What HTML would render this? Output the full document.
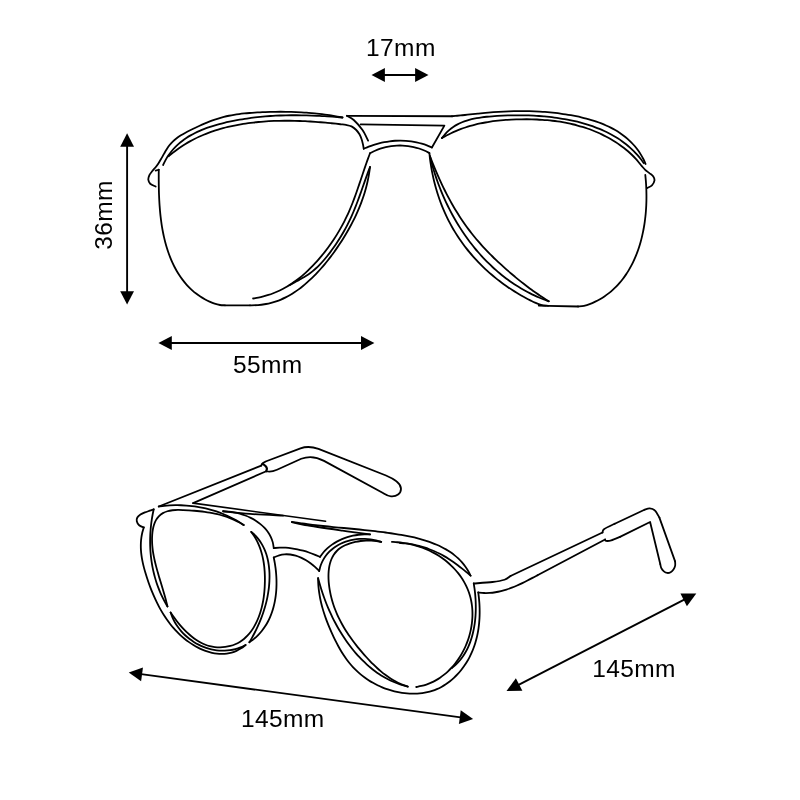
<!DOCTYPE html>
<html><head><meta charset="utf-8"><title>Glasses dimensions</title>
<style>html,body{margin:0;padding:0;background:#fff;}body{width:800px;height:800px;overflow:hidden;font-family:"Liberation Sans",sans-serif;}svg{display:block;will-change:transform;}</style>
</head><body>
<svg width="800" height="800" viewBox="0 0 800 800">
<g fill="none" stroke="#000" stroke-width="1.80" stroke-linecap="round" stroke-linejoin="round">
<path d="M155.60,186.50 C154.70,186.04 151.43,184.88 150.21,183.75 C149.00,182.62 148.47,181.11 148.31,179.71 C148.16,178.31 148.66,176.78 149.29,175.37 C149.93,173.96 151.09,172.62 152.14,171.26 C153.19,169.90 154.52,168.60 155.61,167.21 C156.70,165.82 157.73,164.37 158.70,162.90 C159.66,161.43 160.53,159.90 161.40,158.39 C162.28,156.89 163.09,155.35 163.95,153.85 C164.81,152.36 165.63,150.85 166.55,149.42 C167.46,147.99 168.38,146.58 169.41,145.26 C170.45,143.95 171.55,142.70 172.76,141.53 C173.96,140.36 175.28,139.28 176.64,138.25 C178.00,137.22 179.45,136.27 180.93,135.35 C182.40,134.42 183.95,133.56 185.49,132.72 C187.03,131.87 188.62,131.07 190.19,130.27 C191.76,129.48 193.33,128.70 194.91,127.94 C196.49,127.18 198.07,126.43 199.65,125.72 C201.24,125.00 202.83,124.30 204.42,123.62 C206.01,122.95 207.61,122.30 209.22,121.68 C210.83,121.06 212.44,120.46 214.06,119.90 C215.68,119.34 217.31,118.81 218.95,118.31 C220.59,117.81 222.24,117.35 223.90,116.92 C225.56,116.50 227.23,116.11 228.91,115.75 C230.59,115.40 232.29,115.09 233.99,114.81 C235.69,114.53 237.40,114.28 239.12,114.06 C240.84,113.83 242.56,113.64 244.29,113.46 C246.02,113.29 247.75,113.14 249.49,113.00 C251.22,112.86 252.96,112.74 254.69,112.63 C256.43,112.52 258.16,112.42 259.90,112.32 C261.63,112.23 263.37,112.15 265.10,112.08 C266.83,112.01 268.56,111.96 270.29,111.91 C272.03,111.86 273.76,111.82 275.49,111.80 C277.21,111.77 278.94,111.76 280.67,111.76 C282.40,111.76 284.13,111.77 285.85,111.79 C287.58,111.81 289.30,111.85 291.03,111.90 C292.75,111.94 294.48,112.00 296.20,112.08 C297.92,112.15 299.64,112.24 301.37,112.34 C303.09,112.44 304.81,112.55 306.53,112.68 C308.25,112.80 309.96,112.95 311.68,113.10 C313.40,113.26 315.12,113.42 316.83,113.61 C318.55,113.79 320.26,113.99 321.98,114.20 C323.69,114.42 325.40,114.64 327.12,114.89 C328.83,115.13 330.54,115.39 332.25,115.66 C333.96,115.94 335.67,116.23 337.38,116.53 C339.09,116.84 341.65,117.34 342.50,117.50"/>
<path d="M163.10,165.00 C163.51,164.19 164.67,161.68 165.54,160.12 C166.40,158.55 167.33,157.05 168.30,155.61 C169.28,154.17 170.30,152.78 171.38,151.46 C172.45,150.13 173.57,148.86 174.74,147.64 C175.90,146.42 177.11,145.26 178.36,144.15 C179.61,143.03 180.90,141.97 182.23,140.95 C183.55,139.93 184.92,138.97 186.31,138.04 C187.71,137.11 189.14,136.24 190.60,135.40 C192.06,134.56 193.55,133.76 195.06,133.00 C196.58,132.24 198.12,131.52 199.68,130.83 C201.24,130.14 202.83,129.50 204.43,128.88 C206.03,128.26 207.66,127.67 209.29,127.12 C210.93,126.56 212.58,126.03 214.25,125.53 C215.91,125.03 217.58,124.56 219.27,124.11 C220.95,123.65 222.64,123.23 224.33,122.82 C226.02,122.41 227.72,122.03 229.42,121.66 C231.12,121.29 232.82,120.94 234.52,120.61 C236.23,120.27 237.93,119.96 239.64,119.66 C241.34,119.36 243.05,119.08 244.76,118.82 C246.46,118.55 248.17,118.31 249.88,118.07 C251.59,117.84 253.30,117.63 255.02,117.42 C256.73,117.22 258.44,117.04 260.16,116.87 C261.87,116.70 263.59,116.54 265.30,116.40 C267.02,116.26 268.74,116.13 270.45,116.02 C272.17,115.90 273.89,115.80 275.61,115.71 C277.32,115.63 279.04,115.55 280.76,115.49 C282.48,115.43 284.20,115.38 285.92,115.34 C287.64,115.30 289.36,115.27 291.08,115.26 C292.80,115.24 294.52,115.24 296.24,115.24 C297.95,115.25 299.67,115.26 301.39,115.29 C303.11,115.32 304.83,115.35 306.55,115.40 C308.26,115.44 309.98,115.50 311.70,115.56 C313.41,115.62 315.13,115.70 316.85,115.78 C318.56,115.86 320.28,115.94 321.99,116.04 C323.70,116.13 325.42,116.24 327.13,116.35 C328.84,116.46 330.55,116.57 332.26,116.69 C333.97,116.82 335.68,116.95 337.38,117.08 C339.09,117.21 341.65,117.43 342.50,117.50"/>
<path d="M168.75,156.25 C169.42,155.69 171.41,153.96 172.77,152.86 C174.13,151.77 175.50,150.71 176.90,149.69 C178.29,148.67 179.71,147.68 181.14,146.72 C182.57,145.77 184.01,144.84 185.47,143.95 C186.94,143.06 188.41,142.21 189.91,141.38 C191.40,140.55 192.91,139.76 194.43,138.99 C195.95,138.22 197.48,137.49 199.03,136.78 C200.57,136.08 202.13,135.40 203.71,134.75 C205.28,134.10 206.86,133.48 208.45,132.88 C210.05,132.29 211.65,131.72 213.27,131.18 C214.88,130.63 216.51,130.12 218.14,129.62 C219.77,129.13 221.41,128.67 223.06,128.22 C224.71,127.78 226.37,127.36 228.03,126.96 C229.69,126.56 231.36,126.18 233.04,125.83 C234.72,125.48 236.40,125.14 238.08,124.83 C239.77,124.52 241.46,124.22 243.16,123.95 C244.85,123.68 246.55,123.43 248.25,123.19 C249.96,122.95 251.66,122.74 253.37,122.54 C255.08,122.34 256.79,122.16 258.51,122.00 C260.22,121.83 261.94,121.69 263.66,121.56 C265.38,121.43 267.10,121.32 268.83,121.22 C270.55,121.12 272.28,121.04 274.01,120.97 C275.73,120.90 277.46,120.85 279.19,120.81 C280.92,120.78 282.65,120.75 284.38,120.74 C286.11,120.73 287.84,120.74 289.57,120.75 C291.30,120.77 293.03,120.80 294.76,120.84 C296.49,120.88 298.22,120.93 299.95,120.99 C301.68,121.06 303.40,121.13 305.13,121.22 C306.85,121.30 308.58,121.40 310.30,121.51 C312.02,121.61 313.74,121.73 315.46,121.85 C317.17,121.97 318.89,122.11 320.60,122.25 C322.31,122.39 324.02,122.54 325.73,122.70 C327.43,122.86 329.14,123.02 330.83,123.19 C332.53,123.36 334.23,123.54 335.92,123.73 C337.61,123.91 339.29,124.10 340.97,124.30 C342.65,124.49 344.25,124.55 346.00,124.90 C347.75,125.25 349.79,125.55 351.50,126.40 C353.21,127.25 354.92,128.68 356.25,130.00 C357.58,131.32 358.59,132.72 359.50,134.30 C360.41,135.88 361.12,137.80 361.70,139.50 C362.28,141.20 362.66,142.96 363.00,144.50 C363.34,146.04 363.62,148.04 363.75,148.75"/>
<path d="M363.75,148.75 C364.58,148.40 367.03,147.29 368.71,146.64 C370.38,145.98 372.09,145.38 373.80,144.82 C375.52,144.27 377.26,143.77 379.01,143.32 C380.76,142.87 382.53,142.47 384.30,142.13 C386.08,141.79 387.87,141.51 389.66,141.28 C391.45,141.05 393.25,140.87 395.05,140.76 C396.86,140.65 398.66,140.59 400.47,140.59 C402.27,140.60 404.07,140.66 405.87,140.79 C407.66,140.91 409.46,141.10 411.24,141.35 C413.02,141.60 414.79,141.91 416.55,142.29 C418.31,142.67 420.05,143.11 421.78,143.62 C423.51,144.14 425.22,144.71 426.90,145.36 C428.59,146.00 431.07,147.14 431.90,147.50"/>
<path d="M360.60,124.40 L444.40,125.60 L431.90,147.50"/>
<path d="M370.00,153.30 C370.84,152.88 373.33,151.52 375.05,150.76 C376.76,150.00 378.52,149.32 380.30,148.72 C382.08,148.12 383.90,147.60 385.73,147.17 C387.55,146.74 389.41,146.39 391.26,146.12 C393.12,145.86 395.00,145.68 396.87,145.58 C398.75,145.49 400.63,145.48 402.51,145.55 C404.38,145.62 406.26,145.78 408.12,146.03 C409.97,146.27 411.83,146.60 413.66,147.02 C415.49,147.43 417.30,147.93 419.08,148.52 C420.86,149.11 422.63,149.79 424.35,150.55 C426.07,151.31 428.56,152.67 429.40,153.10"/>
<path d="M346.90,115.80 L452.00,116.25"/>
<path d="M452.00,116.25 C452.86,116.17 455.44,115.94 457.16,115.77 C458.88,115.61 460.60,115.43 462.32,115.26 C464.04,115.08 465.77,114.90 467.49,114.72 C469.21,114.54 470.94,114.36 472.66,114.18 C474.39,114.00 476.11,113.82 477.84,113.65 C479.56,113.47 481.28,113.30 483.01,113.13 C484.73,112.96 486.46,112.80 488.18,112.65 C489.90,112.50 491.62,112.35 493.35,112.21 C495.07,112.08 496.79,111.95 498.51,111.84 C500.23,111.73 501.95,111.62 503.66,111.53 C505.38,111.44 507.10,111.36 508.82,111.30 C510.53,111.23 512.25,111.18 513.97,111.14 C515.68,111.09 517.40,111.07 519.12,111.05 C520.83,111.04 522.55,111.03 524.27,111.05 C525.98,111.06 527.70,111.09 529.42,111.13 C531.13,111.17 532.85,111.22 534.57,111.30 C536.29,111.37 538.01,111.45 539.73,111.55 C541.45,111.66 543.17,111.77 544.90,111.91 C546.62,112.04 548.34,112.19 550.07,112.36 C551.79,112.52 553.52,112.70 555.25,112.90 C556.98,113.10 558.71,113.32 560.44,113.56 C562.17,113.79 563.91,114.04 565.64,114.32 C567.38,114.59 569.12,114.88 570.85,115.19 C572.59,115.50 574.33,115.83 576.06,116.18 C577.79,116.54 579.51,116.91 581.23,117.32 C582.95,117.72 584.66,118.14 586.36,118.60 C588.06,119.05 589.76,119.53 591.43,120.04 C593.11,120.55 594.78,121.08 596.42,121.65 C598.07,122.22 599.70,122.82 601.31,123.45 C602.92,124.08 604.52,124.75 606.08,125.45 C607.65,126.15 609.20,126.88 610.72,127.65 C612.24,128.43 613.74,129.23 615.20,130.08 C616.67,130.93 618.11,131.82 619.51,132.75 C620.92,133.68 622.29,134.65 623.63,135.66 C624.97,136.67 626.28,137.73 627.54,138.83 C628.81,139.93 630.04,141.08 631.23,142.27 C632.41,143.47 633.56,144.71 634.66,146.00 C635.77,147.29 636.83,148.63 637.84,150.03 C638.85,151.42 639.82,152.86 640.73,154.36 C641.65,155.86 642.51,157.41 643.33,159.01 C644.14,160.62 645.22,163.17 645.60,164.00"/>
<path d="M346.90,115.80 C348.04,116.50 351.15,117.63 353.75,120.00 C356.35,122.37 360.11,126.57 362.50,130.00 C364.89,133.43 367.17,138.83 368.10,140.60"/>
<path d="M370.00,153.30 C369.70,154.10 368.78,156.51 368.19,158.13 C367.60,159.74 367.02,161.37 366.44,162.99 C365.87,164.62 365.31,166.25 364.75,167.89 C364.19,169.52 363.64,171.16 363.09,172.80 C362.53,174.44 361.99,176.08 361.44,177.73 C360.89,179.37 360.34,181.01 359.79,182.65 C359.23,184.29 358.68,185.93 358.12,187.57 C357.56,189.21 356.99,190.85 356.41,192.48 C355.84,194.11 355.25,195.74 354.65,197.36 C354.06,198.98 353.45,200.60 352.83,202.21 C352.20,203.82 351.57,205.42 350.91,207.01 C350.25,208.61 349.58,210.20 348.89,211.77 C348.19,213.35 347.48,214.91 346.74,216.47 C346.01,218.03 345.25,219.57 344.47,221.10 C343.69,222.64 342.88,224.16 342.06,225.67 C341.24,227.18 340.39,228.68 339.53,230.17 C338.66,231.66 337.77,233.13 336.87,234.60 C335.96,236.06 335.03,237.51 334.08,238.95 C333.14,240.39 332.17,241.82 331.18,243.24 C330.19,244.65 329.19,246.05 328.16,247.44 C327.13,248.83 326.09,250.21 325.02,251.57 C323.96,252.94 322.87,254.29 321.77,255.62 C320.67,256.96 319.55,258.29 318.41,259.59 C317.27,260.90 316.11,262.20 314.94,263.47 C313.76,264.74 312.56,266.00 311.35,267.23 C310.13,268.47 308.89,269.68 307.64,270.87 C306.38,272.06 305.10,273.22 303.80,274.36 C302.50,275.50 301.18,276.61 299.84,277.69 C298.50,278.76 297.13,279.81 295.75,280.83 C294.36,281.84 292.95,282.83 291.52,283.77 C290.09,284.72 288.63,285.63 287.16,286.50 C285.68,287.37 284.18,288.20 282.65,288.99 C281.13,289.78 279.59,290.54 278.02,291.25 C276.46,291.95 274.87,292.62 273.26,293.25 C271.66,293.87 270.03,294.45 268.39,294.98 C266.74,295.51 265.08,296.00 263.40,296.44 C261.72,296.88 260.02,297.28 258.30,297.62 C256.58,297.96 253.97,298.35 253.10,298.50"/>
<path d="M370.00,167.00 C369.69,167.82 368.74,170.29 368.13,171.94 C367.52,173.58 366.92,175.23 366.33,176.88 C365.73,178.53 365.15,180.18 364.57,181.83 C363.99,183.48 363.42,185.13 362.84,186.77 C362.26,188.42 361.69,190.07 361.11,191.71 C360.52,193.35 359.94,195.00 359.35,196.63 C358.75,198.27 358.15,199.91 357.54,201.54 C356.92,203.17 356.30,204.79 355.66,206.41 C355.02,208.03 354.36,209.65 353.68,211.26 C353.01,212.87 352.31,214.48 351.59,216.07 C350.87,217.67 350.13,219.26 349.36,220.84 C348.59,222.42 347.81,224.00 347.00,225.56 C346.19,227.12 345.36,228.68 344.50,230.22 C343.65,231.76 342.77,233.29 341.88,234.81 C340.98,236.33 340.07,237.83 339.13,239.33 C338.19,240.82 337.23,242.30 336.25,243.76 C335.27,245.22 334.27,246.67 333.25,248.10 C332.23,249.53 331.19,250.95 330.13,252.34 C329.08,253.74 328.00,255.12 326.90,256.47 C325.80,257.83 324.68,259.17 323.54,260.48 C322.39,261.79 321.22,263.08 320.02,264.33 C318.82,265.58 317.60,266.80 316.33,267.98 C315.07,269.15 313.77,270.30 312.43,271.39 C311.09,272.48 309.71,273.53 308.28,274.52 C306.86,275.51 305.38,276.43 303.87,277.33 C302.36,278.22 300.79,279.03 299.23,279.87 C297.68,280.71 296.09,281.50 294.55,282.36 C293.01,283.21 290.76,284.56 290.00,285.00"/>
<path d="M370.00,167.00 C369.88,167.87 369.56,170.49 369.30,172.22 C369.04,173.94 368.74,175.66 368.42,177.36 C368.09,179.07 367.74,180.76 367.35,182.45 C366.97,184.13 366.56,185.80 366.12,187.46 C365.68,189.12 365.21,190.78 364.71,192.42 C364.22,194.06 363.70,195.69 363.15,197.31 C362.60,198.93 362.03,200.54 361.43,202.14 C360.83,203.74 360.21,205.34 359.57,206.92 C358.92,208.50 358.25,210.08 357.56,211.64 C356.87,213.20 356.16,214.76 355.42,216.31 C354.69,217.85 353.93,219.39 353.15,220.92 C352.38,222.45 351.58,223.97 350.76,225.49 C349.95,227.00 349.11,228.51 348.26,230.00 C347.41,231.50 346.53,232.99 345.64,234.48 C344.76,235.96 343.85,237.43 342.93,238.90 C342.01,240.37 341.07,241.83 340.12,243.28 C339.16,244.74 338.19,246.18 337.21,247.62 C336.22,249.06 335.22,250.48 334.21,251.90 C333.19,253.32 332.16,254.72 331.11,256.11 C330.06,257.50 328.99,258.88 327.91,260.25 C326.83,261.61 325.73,262.97 324.62,264.30 C323.50,265.63 322.37,266.95 321.22,268.25 C320.07,269.56 318.91,270.84 317.72,272.10 C316.54,273.37 315.34,274.62 314.12,275.84 C312.90,277.06 311.67,278.27 310.41,279.45 C309.16,280.63 307.89,281.79 306.60,282.92 C305.31,284.06 304.00,285.17 302.67,286.24 C301.34,287.31 299.99,288.36 298.61,289.37 C297.24,290.38 295.85,291.36 294.43,292.30 C293.01,293.23 291.57,294.13 290.10,294.99 C288.63,295.84 287.14,296.65 285.62,297.41 C284.10,298.17 282.55,298.89 280.98,299.55 C279.40,300.22 277.80,300.83 276.17,301.38 C274.54,301.94 272.87,302.44 271.18,302.87 C269.48,303.31 268.20,303.63 266.00,304.00 C263.80,304.37 260.67,304.88 258.00,305.10 C255.33,305.32 251.33,305.27 250.00,305.30"/>
<path d="M250.00,305.30 L225.00,305.30"/>
<path d="M225.00,305.30 C224.17,305.25 221.73,305.27 220.00,305.00 C218.27,304.73 216.34,304.26 214.60,303.70 C212.86,303.14 211.18,302.37 209.54,301.62 C207.91,300.88 206.32,300.08 204.78,299.23 C203.25,298.38 201.76,297.48 200.32,296.54 C198.88,295.59 197.49,294.60 196.14,293.56 C194.80,292.52 193.50,291.44 192.24,290.32 C190.99,289.19 189.78,288.03 188.61,286.82 C187.44,285.62 186.32,284.38 185.24,283.10 C184.15,281.82 183.11,280.51 182.11,279.16 C181.11,277.82 180.16,276.44 179.24,275.03 C178.32,273.62 177.44,272.18 176.59,270.71 C175.75,269.25 174.94,267.75 174.17,266.24 C173.41,264.72 172.67,263.18 171.98,261.62 C171.28,260.05 170.62,258.47 169.99,256.86 C169.36,255.26 168.76,253.64 168.20,252.00 C167.63,250.37 167.10,248.71 166.60,247.05 C166.10,245.38 165.63,243.70 165.19,242.02 C164.75,240.33 164.34,238.63 163.95,236.92 C163.57,235.22 163.21,233.50 162.88,231.78 C162.55,230.06 162.24,228.33 161.96,226.60 C161.68,224.87 161.42,223.13 161.19,221.39 C160.95,219.65 160.74,217.91 160.54,216.16 C160.34,214.41 160.17,212.67 160.01,210.92 C159.86,209.17 159.72,207.42 159.60,205.68 C159.47,203.93 159.37,202.18 159.28,200.44 C159.18,198.70 159.11,196.96 159.04,195.22 C158.97,193.49 158.92,191.76 158.88,190.04 C158.84,188.31 158.81,186.59 158.78,184.88 C158.76,183.17 158.74,181.47 158.73,179.78 C158.73,178.09 158.73,176.40 158.73,174.73 C158.73,173.06 158.75,170.58 158.75,169.75"/>
<path d="M158.75,169.75 L155.60,170.60"/>
<path d="M441.90,138.10 C442.48,137.38 444.17,135.12 445.39,133.78 C446.60,132.44 447.87,131.22 449.17,130.09 C450.48,128.95 451.84,127.92 453.24,126.97 C454.63,126.01 456.07,125.16 457.54,124.37 C459.02,123.58 460.53,122.88 462.07,122.24 C463.61,121.59 465.18,121.03 466.78,120.52 C468.37,120.01 470.00,119.56 471.64,119.16 C473.29,118.76 474.96,118.42 476.64,118.11 C478.32,117.81 480.03,117.55 481.74,117.32 C483.45,117.09 485.17,116.90 486.90,116.73 C488.63,116.56 490.37,116.42 492.11,116.29 C493.85,116.15 495.59,116.04 497.33,115.94 C499.07,115.84 500.81,115.74 502.55,115.66 C504.29,115.58 506.03,115.52 507.77,115.46 C509.50,115.41 511.24,115.37 512.98,115.34 C514.71,115.31 516.45,115.29 518.18,115.29 C519.91,115.29 521.65,115.31 523.38,115.34 C525.11,115.36 526.84,115.41 528.57,115.47 C530.30,115.52 532.03,115.60 533.76,115.69 C535.48,115.78 537.21,115.88 538.93,116.00 C540.66,116.13 542.38,116.27 544.10,116.42 C545.82,116.58 547.54,116.75 549.26,116.94 C550.97,117.13 552.69,117.34 554.40,117.57 C556.12,117.80 557.83,118.05 559.54,118.31 C561.25,118.58 562.96,118.86 564.66,119.16 C566.37,119.47 568.07,119.79 569.77,120.14 C571.47,120.48 573.17,120.85 574.86,121.24 C576.55,121.63 578.23,122.04 579.91,122.47 C581.59,122.91 583.26,123.37 584.92,123.85 C586.58,124.34 588.23,124.85 589.87,125.39 C591.50,125.93 593.13,126.49 594.75,127.08 C596.36,127.68 597.96,128.30 599.55,128.95 C601.13,129.60 602.71,130.29 604.26,131.00 C605.81,131.71 607.35,132.46 608.87,133.23 C610.38,134.01 611.88,134.82 613.36,135.67 C614.84,136.51 616.30,137.39 617.73,138.31 C619.17,139.22 620.58,140.17 621.97,141.16 C623.36,142.15 624.72,143.18 626.06,144.24 C627.39,145.31 628.71,146.41 629.99,147.55 C631.27,148.70 632.52,149.88 633.75,151.10 C634.97,152.33 636.17,153.60 637.33,154.91 C638.49,156.22 639.62,157.57 640.72,158.97 C641.81,160.37 643.37,162.58 643.90,163.30"/>
<path d="M441.90,138.10 C442.65,137.67 444.90,136.35 446.43,135.54 C447.95,134.72 449.49,133.95 451.05,133.20 C452.60,132.46 454.17,131.76 455.74,131.09 C457.32,130.42 458.92,129.79 460.52,129.19 C462.12,128.59 463.74,128.02 465.36,127.48 C466.99,126.95 468.62,126.45 470.27,125.97 C471.92,125.50 473.57,125.06 475.23,124.64 C476.90,124.23 478.57,123.85 480.25,123.49 C481.93,123.13 483.62,122.80 485.31,122.49 C487.00,122.19 488.70,121.91 490.41,121.65 C492.11,121.40 493.82,121.17 495.53,120.96 C497.25,120.75 498.97,120.56 500.69,120.39 C502.41,120.23 504.14,120.08 505.86,119.96 C507.59,119.83 509.32,119.72 511.05,119.63 C512.78,119.55 514.51,119.48 516.24,119.42 C517.98,119.36 519.71,119.32 521.44,119.30 C523.17,119.28 524.90,119.27 526.63,119.27 C528.36,119.28 530.08,119.30 531.81,119.35 C533.54,119.39 535.26,119.45 536.98,119.52 C538.70,119.60 540.42,119.70 542.14,119.81 C543.85,119.93 545.56,120.06 547.27,120.22 C548.98,120.37 550.69,120.55 552.39,120.75 C554.09,120.95 555.79,121.17 557.48,121.41 C559.18,121.65 560.87,121.92 562.55,122.21 C564.23,122.50 565.91,122.81 567.59,123.16 C569.26,123.50 570.93,123.86 572.59,124.25 C574.25,124.64 575.90,125.06 577.55,125.51 C579.20,125.95 580.84,126.42 582.48,126.92 C584.11,127.42 585.74,127.95 587.36,128.51 C588.98,129.07 590.59,129.66 592.20,130.28 C593.80,130.90 595.39,131.55 596.98,132.23 C598.57,132.92 600.15,133.63 601.72,134.38 C603.28,135.12 604.84,135.90 606.39,136.72 C607.93,137.53 609.47,138.37 610.98,139.25 C612.49,140.13 613.99,141.03 615.46,141.97 C616.93,142.91 618.38,143.89 619.81,144.89 C621.23,145.89 622.63,146.93 624.00,147.99 C625.36,149.06 626.70,150.15 628.00,151.28 C629.30,152.40 630.57,153.56 631.80,154.75 C633.02,155.93 634.21,157.15 635.36,158.39 C636.50,159.64 637.58,160.93 638.66,162.22 C639.74,163.51 640.73,164.85 641.82,166.12 C642.91,167.40 643.94,168.69 645.20,169.85 C646.46,171.02 648.04,172.04 649.39,173.13 C650.74,174.22 652.45,175.15 653.29,176.40 C654.13,177.64 654.66,179.11 654.44,180.59 C654.21,182.08 653.13,184.06 651.94,185.29 C650.75,186.53 648.07,187.55 647.30,188.00"/>
<path d="M429.40,153.10 C429.49,153.96 429.75,156.56 429.95,158.28 C430.16,160.00 430.39,161.72 430.64,163.44 C430.90,165.16 431.17,166.87 431.47,168.58 C431.77,170.29 432.09,171.99 432.43,173.69 C432.77,175.39 433.14,177.08 433.53,178.77 C433.91,180.46 434.33,182.14 434.76,183.82 C435.19,185.49 435.65,187.16 436.13,188.82 C436.61,190.48 437.11,192.14 437.63,193.78 C438.16,195.43 438.71,197.07 439.28,198.70 C439.85,200.33 440.44,201.95 441.06,203.56 C441.67,205.17 442.31,206.77 442.97,208.37 C443.63,209.96 444.32,211.54 445.03,213.11 C445.73,214.68 446.46,216.24 447.22,217.79 C447.97,219.34 448.74,220.87 449.54,222.40 C450.34,223.92 451.16,225.44 452.01,226.94 C452.85,228.43 453.72,229.92 454.61,231.39 C455.50,232.87 456.42,234.33 457.35,235.77 C458.29,237.22 459.25,238.65 460.23,240.06 C461.21,241.48 462.21,242.88 463.23,244.27 C464.25,245.66 465.30,247.03 466.36,248.39 C467.42,249.75 468.51,251.09 469.61,252.42 C470.71,253.74 471.84,255.05 472.98,256.35 C474.12,257.65 475.28,258.92 476.46,260.19 C477.64,261.45 478.84,262.70 480.06,263.93 C481.27,265.16 482.51,266.37 483.76,267.57 C485.01,268.76 486.28,269.94 487.56,271.11 C488.84,272.27 490.14,273.41 491.46,274.54 C492.78,275.66 494.11,276.77 495.45,277.86 C496.80,278.95 498.16,280.03 499.54,281.08 C500.92,282.13 502.31,283.17 503.71,284.18 C505.12,285.20 506.53,286.20 507.96,287.18 C509.40,288.15 510.84,289.11 512.30,290.05 C513.75,290.99 515.22,291.91 516.70,292.81 C518.19,293.70 519.68,294.58 521.18,295.44 C522.69,296.30 524.20,297.14 525.73,297.95 C527.25,298.77 528.79,299.57 530.33,300.34 C531.88,301.11 533.22,301.86 535.00,302.60 C536.78,303.34 538.83,304.25 541.00,304.80 C543.17,305.35 546.83,305.72 548.00,305.90"/>
<path d="M548.00,305.90 L578.00,306.50"/>
<path d="M578.00,306.50 C579.00,306.38 581.95,306.23 584.00,305.80 C586.05,305.37 588.42,304.59 590.30,303.90 C592.18,303.21 593.65,302.46 595.26,301.67 C596.87,300.88 598.44,300.04 599.96,299.16 C601.48,298.28 602.95,297.35 604.39,296.38 C605.82,295.41 607.21,294.40 608.56,293.35 C609.91,292.30 611.22,291.21 612.48,290.08 C613.75,288.95 614.97,287.78 616.16,286.58 C617.34,285.38 618.48,284.14 619.59,282.87 C620.69,281.60 621.76,280.30 622.79,278.97 C623.81,277.63 624.80,276.27 625.75,274.87 C626.71,273.48 627.62,272.06 628.50,270.61 C629.37,269.16 630.22,267.69 631.02,266.19 C631.83,264.69 632.60,263.17 633.33,261.62 C634.07,260.08 634.77,258.51 635.43,256.92 C636.10,255.34 636.73,253.73 637.33,252.11 C637.93,250.49 638.50,248.84 639.04,247.19 C639.57,245.53 640.08,243.86 640.55,242.18 C641.02,240.50 641.46,238.80 641.87,237.09 C642.29,235.39 642.67,233.67 643.02,231.94 C643.37,230.22 643.70,228.48 643.99,226.74 C644.29,225.01 644.55,223.26 644.79,221.51 C645.03,219.76 645.24,218.01 645.43,216.25 C645.62,214.50 645.78,212.74 645.91,210.98 C646.04,209.23 646.15,207.47 646.24,205.72 C646.32,203.97 646.38,202.22 646.42,200.48 C646.45,198.73 646.46,196.99 646.45,195.26 C646.44,193.53 646.41,191.81 646.36,190.10 C646.30,188.38 646.22,186.68 646.13,184.99 C646.03,183.30 645.91,181.62 645.77,179.95 C645.64,178.29 645.38,175.83 645.30,175.00"/>
<path d="M538.75,305.60 L546.25,305.80"/>
<path d="M430.00,156.25 C430.20,157.07 430.80,159.53 431.22,161.17 C431.65,162.81 432.09,164.44 432.55,166.08 C433.02,167.71 433.50,169.35 433.99,170.97 C434.49,172.60 435.01,174.23 435.55,175.85 C436.08,177.48 436.63,179.09 437.21,180.71 C437.78,182.32 438.37,183.93 438.97,185.54 C439.58,187.14 440.21,188.74 440.85,190.34 C441.49,191.93 442.15,193.52 442.83,195.10 C443.51,196.68 444.21,198.26 444.92,199.83 C445.63,201.40 446.36,202.96 447.11,204.51 C447.86,206.07 448.63,207.61 449.41,209.15 C450.20,210.68 451.00,212.21 451.82,213.73 C452.63,215.25 453.47,216.76 454.32,218.26 C455.17,219.76 456.04,221.25 456.93,222.73 C457.82,224.21 458.72,225.68 459.64,227.14 C460.56,228.59 461.50,230.04 462.46,231.48 C463.41,232.91 464.38,234.33 465.37,235.74 C466.36,237.15 467.36,238.55 468.39,239.93 C469.41,241.31 470.45,242.68 471.50,244.04 C472.55,245.39 473.63,246.74 474.71,248.06 C475.80,249.39 476.91,250.70 478.03,252.00 C479.15,253.29 480.28,254.58 481.43,255.84 C482.59,257.10 483.76,258.35 484.94,259.58 C486.13,260.82 487.33,262.03 488.54,263.23 C489.76,264.43 490.99,265.61 492.24,266.77 C493.49,267.93 494.76,269.07 496.04,270.19 C497.32,271.32 498.61,272.42 499.93,273.51 C501.24,274.59 502.57,275.66 503.91,276.70 C505.25,277.75 506.61,278.77 507.98,279.78 C509.36,280.78 510.75,281.76 512.15,282.73 C513.56,283.69 514.98,284.63 516.41,285.54 C517.85,286.46 519.30,287.35 520.76,288.22 C522.23,289.09 523.71,289.94 525.20,290.77 C526.70,291.59 528.21,292.39 529.74,293.17 C531.26,293.94 532.80,294.69 534.36,295.42 C535.91,296.14 537.48,296.85 539.07,297.52 C540.65,298.19 542.25,298.84 543.86,299.47 C545.48,300.09 547.94,300.95 548.75,301.25"/>
<path d="M430.00,156.25 C430.31,157.05 431.23,159.47 431.86,161.08 C432.49,162.68 433.13,164.29 433.78,165.88 C434.43,167.48 435.09,169.08 435.76,170.67 C436.43,172.26 437.11,173.85 437.80,175.43 C438.49,177.01 439.20,178.58 439.91,180.15 C440.63,181.72 441.35,183.29 442.09,184.85 C442.83,186.40 443.58,187.96 444.35,189.50 C445.11,191.05 445.89,192.58 446.68,194.12 C447.47,195.65 448.27,197.17 449.09,198.68 C449.90,200.20 450.73,201.71 451.58,203.21 C452.42,204.70 453.28,206.19 454.15,207.67 C455.02,209.15 455.91,210.63 456.81,212.09 C457.72,213.55 458.63,215.00 459.57,216.44 C460.50,217.88 461.45,219.31 462.41,220.73 C463.38,222.15 464.36,223.56 465.35,224.96 C466.35,226.36 467.36,227.74 468.39,229.12 C469.42,230.49 470.47,231.85 471.54,233.20 C472.60,234.55 473.68,235.89 474.77,237.21 C475.87,238.54 476.98,239.85 478.10,241.15 C479.23,242.45 480.37,243.75 481.52,245.03 C482.67,246.31 483.84,247.57 485.02,248.83 C486.20,250.09 487.39,251.34 488.60,252.57 C489.80,253.81 491.02,255.03 492.25,256.25 C493.47,257.47 494.71,258.67 495.96,259.87 C497.21,261.06 498.47,262.25 499.74,263.42 C501.00,264.60 502.28,265.76 503.57,266.92 C504.85,268.08 506.15,269.22 507.45,270.36 C508.75,271.50 510.06,272.63 511.38,273.75 C512.70,274.87 514.02,275.98 515.35,277.08 C516.68,278.18 518.02,279.28 519.36,280.36 C520.70,281.44 522.05,282.52 523.41,283.58 C524.77,284.64 526.13,285.69 527.51,286.73 C528.88,287.76 530.26,288.79 531.65,289.80 C533.04,290.81 534.44,291.81 535.84,292.80 C537.25,293.78 538.67,294.76 540.09,295.71 C541.51,296.67 542.95,297.61 544.39,298.53 C545.83,299.45 548.02,300.80 548.75,301.25"/>
<path d="M158.75,506.50 L261.25,465.60"/>
<path d="M261.25,465.6 C261.6,464.2 263.5,462.4 266.25,461.25 L300.5,448.4 Q308.5,445.4 318.5,448.9 L386,475.5 C395,479.3 401,484 401,488.7 C401,493.6 396.5,496.9 391,496.4 C388,496.2 385.5,494.5 383,493 L324,460.9 Q312.5,454.6 301.25,458.75 L277,469.8 C273,471.6 269.5,472.2 266.25,471.25 L193.1,503.1"/>
<path d="M262.50,463.75 C263.00,464.12 264.77,465.21 265.50,466.00 C266.23,466.79 266.77,467.62 266.90,468.50 C267.02,469.38 266.36,470.79 266.25,471.25" stroke-width="2.20"/>
<path d="M193.10,503.10 L325.60,521.25" stroke-width="1.60"/>
<path d="M223.10,511.25 C227.58,511.69 240.02,513.16 250.00,513.90 C259.98,514.64 277.50,515.40 283.00,515.70"/>
<path d="M223.10,511.25 C224.01,511.30 226.71,511.35 228.55,511.53 C230.39,511.71 232.28,511.98 234.15,512.33 C236.02,512.69 237.91,513.14 239.78,513.67 C241.64,514.20 243.51,514.81 245.33,515.52 C247.15,516.22 248.96,517.01 250.70,517.88 C252.44,518.75 254.14,519.70 255.77,520.74 C257.39,521.78 258.96,522.90 260.43,524.10 C261.89,525.30 263.29,526.59 264.57,527.95 C265.85,529.31 267.04,530.76 268.08,532.28 C269.13,533.81 270.08,535.41 270.86,537.09 C271.64,538.77 272.30,540.53 272.79,542.36 C273.27,544.20 273.59,547.14 273.75,548.10"/>
<path d="M273.75,548.10 C274.74,548.02 277.72,547.70 279.70,547.64 C281.68,547.57 283.67,547.61 285.64,547.72 C287.62,547.83 289.60,548.03 291.56,548.29 C293.53,548.56 295.49,548.91 297.43,549.32 C299.38,549.73 301.31,550.21 303.23,550.74 C305.15,551.27 307.06,551.87 308.94,552.51 C310.83,553.15 312.70,553.85 314.54,554.58 C316.38,555.31 319.09,556.51 320.00,556.90"/>
<path d="M320.00,556.90 C320.59,556.13 322.27,553.73 323.53,552.28 C324.79,550.82 326.14,549.46 327.56,548.19 C328.97,546.92 330.47,545.74 332.01,544.64 C333.56,543.55 335.18,542.54 336.84,541.62 C338.50,540.70 340.22,539.87 341.97,539.13 C343.72,538.38 345.52,537.73 347.34,537.15 C349.16,536.58 351.02,536.10 352.89,535.70 C354.76,535.30 356.66,534.99 358.56,534.76 C360.46,534.53 362.38,534.39 364.29,534.33 C366.19,534.27 369.05,534.39 370.00,534.40"/>
<path d="M291.90,521.90 C292.76,522.04 295.36,522.46 297.09,522.72 C298.81,522.98 300.54,523.23 302.27,523.47 C304.00,523.72 305.73,523.95 307.46,524.17 C309.19,524.40 310.92,524.61 312.65,524.82 C314.38,525.03 316.10,525.23 317.83,525.42 C319.56,525.61 321.29,525.80 323.02,525.99 C324.76,526.17 326.49,526.35 328.22,526.52 C329.95,526.70 331.68,526.87 333.41,527.04 C335.14,527.20 336.88,527.37 338.61,527.53 C340.34,527.70 342.07,527.86 343.81,528.02 C345.54,528.19 347.28,528.35 349.01,528.51 C350.75,528.68 352.48,528.84 354.22,529.01 C355.95,529.18 357.69,529.35 359.43,529.52 C361.16,529.69 362.90,529.87 364.64,530.05 C366.38,530.23 368.12,530.41 369.86,530.60 C371.60,530.80 373.34,530.99 375.08,531.19 C376.82,531.40 378.57,531.61 380.31,531.83 C382.05,532.05 383.80,532.27 385.54,532.51 C387.29,532.75 389.03,532.99 390.78,533.25 C392.53,533.50 394.28,533.77 396.03,534.05 C397.77,534.33 399.53,534.62 401.27,534.92 C403.02,535.23 404.76,535.55 406.50,535.89 C408.24,536.23 409.98,536.59 411.71,536.97 C413.44,537.35 415.16,537.75 416.87,538.18 C418.58,538.61 420.28,539.06 421.97,539.55 C423.65,540.03 425.33,540.54 426.99,541.09 C428.65,541.63 430.29,542.21 431.92,542.82 C433.54,543.43 435.15,544.08 436.73,544.76 C438.32,545.45 439.88,546.17 441.42,546.94 C442.95,547.71 444.46,548.52 445.94,549.38 C447.41,550.24 448.86,551.14 450.27,552.10 C451.67,553.06 453.05,554.06 454.37,555.12 C455.70,556.18 456.99,557.30 458.23,558.47 C459.47,559.65 460.67,560.88 461.81,562.17 C462.96,563.47 464.05,564.82 465.09,566.24 C466.12,567.67 467.11,569.15 468.03,570.71 C468.94,572.27 470.17,574.79 470.60,575.60"/>
<path d="M291.90,522.20 C294.08,522.67 296.57,523.60 305.00,525.00 C313.43,526.40 331.67,529.03 342.50,530.60 C353.33,532.17 365.42,533.77 370.00,534.40"/>
<path d="M158.75,506.50 C159.66,506.39 162.40,506.01 164.24,505.83 C166.07,505.64 167.91,505.50 169.76,505.39 C171.61,505.29 173.46,505.23 175.31,505.21 C177.17,505.18 179.02,505.20 180.88,505.26 C182.73,505.32 184.59,505.42 186.44,505.56 C188.30,505.70 190.15,505.88 191.99,506.10 C193.84,506.32 195.68,506.58 197.52,506.88 C199.35,507.18 201.18,507.53 203.00,507.91 C204.82,508.29 206.63,508.72 208.43,509.19 C210.22,509.65 212.01,510.16 213.78,510.70 C215.56,511.25 217.32,511.84 219.06,512.47 C220.80,513.10 222.53,513.77 224.24,514.48 C225.95,515.19 227.65,515.95 229.32,516.74 C230.99,517.53 232.64,518.37 234.27,519.25 C235.90,520.12 237.50,521.04 239.08,522.00 C240.66,522.96 242.97,524.50 243.75,525.00"/>
<path d="M243.75,525.00 C242.95,524.54 240.56,523.11 238.96,522.25 C237.37,521.40 235.77,520.62 234.17,519.89 C232.58,519.16 230.98,518.49 229.37,517.87 C227.77,517.25 226.16,516.69 224.55,516.17 C222.93,515.65 221.31,515.18 219.68,514.75 C218.05,514.31 216.41,513.93 214.76,513.58 C213.11,513.22 211.44,512.91 209.77,512.63 C208.09,512.34 206.40,512.09 204.70,511.86 C202.99,511.63 201.27,511.43 199.53,511.25 C197.79,511.07 196.04,510.91 194.26,510.76 C192.48,510.61 190.68,510.48 188.86,510.36 C187.05,510.24 185.19,510.11 183.35,510.04 C181.51,509.97 179.63,509.89 177.82,509.93 C176.00,509.97 174.18,510.04 172.45,510.26 C170.71,510.48 169.01,510.78 167.41,511.26 C165.81,511.74 164.27,512.34 162.87,513.14 C161.48,513.93 160.16,514.90 159.03,516.02 C157.91,517.14 156.94,518.46 156.11,519.87 C155.29,521.29 154.64,522.87 154.09,524.50 C153.54,526.13 153.15,527.89 152.83,529.65 C152.51,531.41 152.32,533.25 152.19,535.05 C152.06,536.86 152.03,538.68 152.05,540.47 C152.07,542.26 152.16,544.04 152.30,545.80 C152.44,547.56 152.65,549.30 152.89,551.04 C153.14,552.77 153.44,554.49 153.76,556.20 C154.09,557.91 154.47,559.61 154.86,561.30 C155.25,563.00 155.68,564.68 156.12,566.36 C156.56,568.04 157.02,569.71 157.49,571.38 C157.96,573.05 158.45,574.71 158.94,576.38 C159.43,578.04 159.93,579.70 160.42,581.36 C160.92,583.02 161.43,584.68 161.93,586.35 C162.42,588.01 162.92,589.67 163.41,591.34 C163.90,593.01 164.39,594.68 164.86,596.36 C165.33,598.03 165.79,599.71 166.23,601.41 C166.67,603.10 167.29,605.65 167.50,606.50"/>
<path d="M153.70,509.30 C153.52,510.17 152.97,512.76 152.64,514.50 C152.32,516.24 152.03,517.98 151.77,519.73 C151.51,521.48 151.27,523.23 151.07,524.99 C150.87,526.75 150.71,528.51 150.57,530.27 C150.43,532.03 150.33,533.80 150.25,535.56 C150.18,537.33 150.14,539.09 150.13,540.86 C150.12,542.62 150.14,544.38 150.20,546.15 C150.26,547.91 150.35,549.67 150.47,551.42 C150.60,553.18 150.76,554.93 150.95,556.68 C151.14,558.43 151.37,560.18 151.63,561.91 C151.89,563.65 152.19,565.39 152.52,567.11 C152.85,568.84 153.21,570.56 153.62,572.27 C154.02,573.98 154.46,575.68 154.93,577.37 C155.41,579.06 155.92,580.74 156.46,582.42 C157.01,584.09 157.59,585.75 158.22,587.39 C158.84,589.04 159.50,590.68 160.19,592.30 C160.89,593.92 161.62,595.53 162.40,597.13 C163.17,598.72 163.98,600.30 164.83,601.86 C165.68,603.42 167.06,605.73 167.50,606.50"/>
<path d="M153.70,509.30 C153.05,509.53 151.25,510.19 149.79,510.71 C148.34,511.22 146.54,511.75 144.98,512.39 C143.42,513.03 141.71,513.72 140.44,514.57 C139.16,515.42 137.93,516.35 137.33,517.48 C136.72,518.60 136.49,520.01 136.79,521.30 C137.10,522.59 137.98,524.22 139.15,525.24 C140.32,526.25 143.02,527.04 143.80,527.40"/>
<path d="M143.80,527.40 C143.55,528.26 142.73,530.85 142.32,532.57 C141.92,534.28 141.61,535.99 141.37,537.70 C141.13,539.40 140.98,541.10 140.89,542.79 C140.80,544.49 140.79,546.17 140.84,547.86 C140.89,549.54 141.01,551.22 141.18,552.89 C141.35,554.57 141.58,556.24 141.85,557.90 C142.12,559.57 142.45,561.23 142.81,562.89 C143.17,564.55 143.58,566.21 144.02,567.86 C144.45,569.51 144.93,571.16 145.42,572.81 C145.91,574.46 146.43,576.11 146.97,577.76 C147.50,579.40 148.06,581.04 148.63,582.68 C149.21,584.32 149.80,585.95 150.42,587.58 C151.04,589.20 151.67,590.83 152.34,592.43 C153.00,594.04 153.68,595.64 154.39,597.23 C155.10,598.82 155.84,600.39 156.60,601.95 C157.36,603.51 158.14,605.06 158.96,606.59 C159.77,608.12 160.61,609.63 161.48,611.12 C162.35,612.61 163.25,614.09 164.18,615.54 C165.11,616.98 166.07,618.41 167.06,619.82 C168.06,621.22 169.08,622.60 170.13,623.95 C171.19,625.30 172.28,626.63 173.40,627.92 C174.53,629.21 175.69,630.48 176.88,631.71 C178.08,632.94 179.31,634.15 180.58,635.31 C181.85,636.48 183.15,637.61 184.50,638.70 C185.84,639.79 187.23,640.86 188.65,641.87 C190.07,642.88 191.53,643.86 193.01,644.78 C194.50,645.69 196.02,646.57 197.57,647.37 C199.11,648.18 200.68,648.93 202.27,649.61 C203.85,650.28 205.46,650.90 207.08,651.43 C208.70,651.96 210.33,652.42 211.97,652.79 C213.61,653.16 215.27,653.45 216.91,653.63 C218.56,653.82 220.22,653.92 221.87,653.91 C223.51,653.90 225.16,653.79 226.79,653.57 C228.43,653.34 230.06,653.01 231.67,652.56 C233.28,652.10 234.88,651.53 236.45,650.83 C238.02,650.12 239.58,649.30 241.10,648.32 C242.63,647.35 244.85,645.55 245.60,645.00"/>
<path d="M170.60,612.50 C170.92,613.35 171.79,615.96 172.52,617.63 C173.25,619.30 174.08,620.92 174.98,622.49 C175.88,624.07 176.88,625.60 177.94,627.07 C179.00,628.54 180.14,629.96 181.35,631.32 C182.55,632.68 183.83,633.99 185.16,635.23 C186.49,636.47 187.89,637.65 189.33,638.76 C190.78,639.87 192.28,640.91 193.82,641.89 C195.36,642.86 196.95,643.76 198.57,644.58 C200.19,645.41 201.85,646.16 203.53,646.83 C205.22,647.49 206.94,648.08 208.68,648.58 C210.41,649.08 212.17,649.50 213.94,649.83 C215.71,650.15 217.50,650.39 219.29,650.53 C221.08,650.67 222.88,650.72 224.67,650.67 C226.46,650.62 228.26,650.47 230.04,650.21 C231.82,649.96 233.59,649.60 235.35,649.13 C237.10,648.67 238.84,648.09 240.55,647.41 C242.26,646.72 244.76,645.40 245.60,645.00"/>
<path d="M170.60,612.50 C171.07,613.18 172.44,615.21 173.42,616.58 C174.40,617.95 175.43,619.34 176.50,620.72 C177.58,622.10 178.69,623.48 179.85,624.84 C181.00,626.20 182.20,627.55 183.44,628.86 C184.68,630.17 185.96,631.46 187.27,632.69 C188.59,633.92 189.95,635.12 191.34,636.25 C192.73,637.38 194.16,638.46 195.63,639.46 C197.10,640.45 198.60,641.39 200.14,642.22 C201.68,643.06 203.25,643.82 204.85,644.47 C206.46,645.12 208.10,645.68 209.77,646.12 C211.44,646.55 213.15,646.87 214.87,647.08 C216.58,647.29 218.33,647.38 220.06,647.36 C221.79,647.35 223.54,647.22 225.25,646.98 C226.97,646.74 228.68,646.39 230.34,645.93 C232.00,645.47 233.64,644.91 235.22,644.24 C236.79,643.57 238.33,642.79 239.78,641.91 C241.24,641.03 242.63,640.04 243.94,638.97 C245.26,637.90 246.49,636.71 247.66,635.47 C248.83,634.22 249.93,632.88 250.96,631.49 C252.00,630.09 252.96,628.62 253.86,627.11 C254.76,625.61 255.59,624.03 256.37,622.44 C257.14,620.84 257.85,619.19 258.50,617.54 C259.16,615.88 259.75,614.19 260.29,612.50 C260.83,610.81 261.31,609.10 261.74,607.39 C262.17,605.68 262.55,603.97 262.88,602.24 C263.22,600.52 263.50,598.79 263.74,597.05 C263.99,595.32 264.18,593.58 264.35,591.83 C264.51,590.09 264.63,588.34 264.72,586.59 C264.81,584.84 264.86,583.09 264.89,581.33 C264.91,579.58 264.91,577.82 264.87,576.07 C264.82,574.32 264.75,572.57 264.62,570.83 C264.50,569.09 264.34,567.35 264.13,565.62 C263.93,563.90 263.67,562.17 263.37,560.47 C263.06,558.77 262.71,557.07 262.29,555.40 C261.88,553.72 261.41,552.06 260.88,550.42 C260.35,548.78 259.76,547.16 259.10,545.56 C258.44,543.97 257.72,542.39 256.92,540.84 C256.12,539.30 255.26,537.77 254.31,536.28 C253.37,534.79 251.76,532.63 251.25,531.90"/>
<path d="M251.25,531.90 C251.95,532.53 254.14,534.38 255.43,535.71 C256.71,537.04 257.89,538.44 258.98,539.88 C260.06,541.32 261.05,542.82 261.94,544.36 C262.84,545.90 263.64,547.49 264.36,549.11 C265.08,550.73 265.71,552.40 266.27,554.09 C266.82,555.78 267.29,557.51 267.70,559.25 C268.10,560.99 268.43,562.77 268.69,564.55 C268.95,566.34 269.14,568.14 269.28,569.95 C269.42,571.76 269.49,573.59 269.51,575.41 C269.53,577.23 269.49,579.06 269.41,580.87 C269.33,582.69 269.19,584.50 269.02,586.31 C268.84,588.12 268.62,589.92 268.35,591.71 C268.08,593.50 267.77,595.29 267.42,597.06 C267.07,598.84 266.67,600.61 266.24,602.37 C265.81,604.12 265.33,605.87 264.82,607.61 C264.31,609.35 263.76,611.08 263.18,612.80 C262.60,614.51 261.98,616.22 261.33,617.91 C260.68,619.60 260.00,621.28 259.29,622.95 C258.57,624.62 257.83,626.27 257.06,627.91 C256.29,629.55 255.48,631.17 254.66,632.78 C253.83,634.39 252.98,635.99 252.10,637.57 C251.22,639.14 249.85,641.47 249.40,642.25"/>
<path d="M273.75,557.50 C273.92,558.38 274.47,561.02 274.77,562.81 C275.07,564.59 275.34,566.41 275.57,568.23 C275.80,570.05 275.99,571.89 276.14,573.74 C276.29,575.58 276.40,577.44 276.46,579.29 C276.52,581.15 276.53,583.02 276.50,584.88 C276.47,586.74 276.39,588.60 276.26,590.45 C276.12,592.30 275.94,594.15 275.71,595.98 C275.47,597.81 275.18,599.64 274.83,601.44 C274.48,603.25 274.08,605.04 273.61,606.80 C273.15,608.56 272.62,610.31 272.03,612.03 C271.45,613.74 270.80,615.43 270.08,617.09 C269.36,618.74 268.58,620.37 267.73,621.95 C266.87,623.53 265.95,625.09 264.96,626.59 C263.97,628.09 262.90,629.56 261.76,630.97 C260.62,632.38 259.41,633.75 258.11,635.06 C256.82,636.37 255.45,637.63 254.00,638.83 C252.55,640.03 250.17,641.68 249.40,642.25"/>
<path d="M273.75,557.50 C274.66,557.13 277.36,555.80 279.19,555.27 C281.01,554.74 282.86,554.44 284.70,554.31 C286.54,554.18 288.39,554.27 290.22,554.49 C292.05,554.71 293.88,555.13 295.67,555.65 C297.46,556.18 299.24,556.87 300.97,557.65 C302.70,558.42 304.41,559.34 306.05,560.33 C307.69,561.31 309.30,562.41 310.83,563.54 C312.36,564.68 313.85,565.91 315.24,567.15 C316.64,568.39 318.54,570.36 319.20,571.00"/>
<path d="M319.20,571.00 C319.46,570.05 320.10,567.10 320.73,565.29 C321.37,563.48 322.15,561.76 323.03,560.13 C323.90,558.50 324.91,556.97 326.00,555.52 C327.09,554.08 328.30,552.73 329.58,551.47 C330.86,550.22 332.24,549.05 333.68,547.98 C335.12,546.91 336.65,545.94 338.23,545.05 C339.80,544.17 341.46,543.38 343.14,542.68 C344.83,541.99 346.58,541.38 348.35,540.87 C350.12,540.36 351.94,539.95 353.76,539.63 C355.59,539.31 357.45,539.08 359.31,538.95 C361.17,538.81 363.05,538.78 364.91,538.83 C366.77,538.89 368.65,539.04 370.49,539.29 C372.33,539.53 374.17,539.87 375.96,540.31 C377.75,540.74 380.37,541.63 381.25,541.90"/>
<path d="M381.25,541.90 C380.45,541.78 378.08,541.37 376.43,541.17 C374.78,540.98 373.08,540.81 371.36,540.72 C369.64,540.63 367.87,540.59 366.10,540.63 C364.33,540.68 362.52,540.78 360.72,540.99 C358.92,541.20 357.09,541.48 355.31,541.87 C353.52,542.25 351.73,542.72 350.02,543.29 C348.31,543.86 346.63,544.52 345.05,545.28 C343.48,546.04 341.96,546.89 340.58,547.85 C339.20,548.80 337.91,549.85 336.78,551.00 C335.64,552.15 334.65,553.42 333.77,554.75 C332.89,556.08 332.15,557.51 331.51,558.99 C330.87,560.47 330.35,562.04 329.93,563.64 C329.50,565.24 329.19,566.91 328.95,568.60 C328.71,570.29 328.58,572.04 328.51,573.79 C328.44,575.53 328.45,577.32 328.53,579.10 C328.60,580.87 328.75,582.67 328.94,584.44 C329.13,586.21 329.39,587.98 329.68,589.72 C329.97,591.47 330.31,593.19 330.69,594.90 C331.07,596.61 331.50,598.29 331.97,599.97 C332.43,601.64 332.94,603.29 333.49,604.92 C334.04,606.56 334.63,608.18 335.25,609.78 C335.87,611.38 336.54,612.96 337.23,614.53 C337.93,616.10 338.66,617.65 339.42,619.18 C340.18,620.72 340.98,622.24 341.80,623.74 C342.63,625.24 343.48,626.73 344.37,628.20 C345.25,629.67 346.16,631.13 347.10,632.57 C348.03,634.01 349.00,635.43 349.98,636.85 C350.97,638.26 351.98,639.65 353.01,641.04 C354.04,642.42 355.09,643.79 356.16,645.14 C357.23,646.50 358.32,647.84 359.42,649.17 C360.53,650.49 361.65,651.81 362.78,653.11 C363.92,654.41 365.07,655.70 366.23,656.98 C367.40,658.25 368.57,659.52 369.76,660.76 C370.95,662.01 372.15,663.24 373.37,664.45 C374.60,665.65 375.83,666.84 377.10,668.00 C378.36,669.16 379.64,670.29 380.95,671.39 C382.25,672.49 383.58,673.56 384.94,674.58 C386.30,675.61 387.69,676.61 389.11,677.56 C390.52,678.50 391.97,679.41 393.45,680.27 C394.94,681.13 396.45,681.95 398.01,682.71 C399.56,683.47 401.15,684.18 402.78,684.83 C404.41,685.47 406.96,686.30 407.80,686.60"/>
<path d="M318.10,578.10 C318.12,578.96 318.15,581.56 318.24,583.27 C318.34,584.99 318.47,586.69 318.65,588.39 C318.83,590.09 319.05,591.78 319.31,593.46 C319.56,595.14 319.86,596.81 320.19,598.48 C320.52,600.14 320.89,601.80 321.29,603.45 C321.69,605.10 322.13,606.74 322.59,608.38 C323.06,610.01 323.56,611.64 324.08,613.26 C324.60,614.88 325.15,616.49 325.73,618.09 C326.30,619.70 326.91,621.30 327.53,622.89 C328.16,624.48 328.80,626.06 329.47,627.64 C330.14,629.22 330.82,630.79 331.53,632.35 C332.23,633.92 332.95,635.48 333.69,637.03 C334.43,638.58 335.18,640.13 335.96,641.66 C336.73,643.19 337.53,644.71 338.35,646.21 C339.17,647.71 340.01,649.20 340.89,650.67 C341.76,652.13 342.66,653.58 343.59,655.01 C344.53,656.43 345.49,657.83 346.49,659.20 C347.49,660.57 348.52,661.91 349.60,663.22 C350.67,664.53 351.78,665.82 352.94,667.06 C354.09,668.30 355.29,669.51 356.52,670.68 C357.75,671.85 359.03,672.98 360.34,674.07 C361.64,675.17 362.99,676.22 364.36,677.24 C365.74,678.25 367.15,679.22 368.58,680.15 C370.02,681.08 371.49,681.97 372.98,682.81 C374.47,683.66 375.99,684.46 377.53,685.21 C379.07,685.96 380.64,686.67 382.22,687.33 C383.80,687.99 385.41,688.60 387.02,689.16 C388.64,689.72 390.28,690.24 391.93,690.70 C393.58,691.16 395.24,691.57 396.91,691.93 C398.59,692.29 400.27,692.60 401.96,692.85 C403.65,693.10 405.35,693.30 407.05,693.44 C408.75,693.58 410.45,693.66 412.15,693.68 C413.85,693.70 415.55,693.67 417.24,693.57 C418.93,693.47 420.62,693.30 422.29,693.07 C423.96,692.84 425.62,692.55 427.26,692.18 C428.90,691.82 430.52,691.39 432.12,690.88 C433.72,690.37 435.31,689.80 436.86,689.14 C438.41,688.49 439.93,687.76 441.42,686.96 C442.92,686.15 444.38,685.27 445.80,684.33 C447.23,683.38 448.62,682.37 449.97,681.30 C451.32,680.23 452.64,679.09 453.91,677.91 C455.18,676.73 456.41,675.50 457.60,674.22 C458.78,672.95 459.92,671.63 461.01,670.27 C462.10,668.92 463.14,667.53 464.13,666.11 C465.12,664.70 466.06,663.25 466.95,661.78 C467.84,660.32 468.67,658.82 469.45,657.31 C470.24,655.80 470.97,654.26 471.66,652.71 C472.35,651.16 472.98,649.59 473.57,648.00 C474.16,646.41 474.71,644.80 475.21,643.18 C475.71,641.56 476.16,639.93 476.57,638.28 C476.98,636.63 477.35,634.97 477.67,633.30 C478.00,631.63 478.28,629.95 478.52,628.27 C478.76,626.58 478.96,624.88 479.13,623.18 C479.29,621.49 479.42,619.78 479.51,618.07 C479.59,616.36 479.64,614.65 479.66,612.94 C479.68,611.23 479.65,609.51 479.60,607.80 C479.55,606.09 479.46,604.38 479.34,602.67 C479.22,600.97 479.07,599.26 478.89,597.57 C478.70,595.87 478.36,593.34 478.25,592.50"/>
<path d="M318.10,578.10 C318.32,578.93 318.97,581.43 319.44,583.09 C319.90,584.75 320.39,586.42 320.91,588.08 C321.42,589.74 321.95,591.40 322.51,593.06 C323.06,594.71 323.64,596.37 324.25,598.02 C324.85,599.67 325.47,601.32 326.12,602.96 C326.76,604.60 327.43,606.23 328.12,607.86 C328.82,609.49 329.53,611.11 330.27,612.72 C331.00,614.33 331.76,615.93 332.54,617.53 C333.33,619.12 334.13,620.70 334.96,622.27 C335.78,623.84 336.63,625.40 337.51,626.95 C338.38,628.49 339.28,630.03 340.20,631.54 C341.11,633.06 342.06,634.57 343.02,636.05 C343.98,637.54 344.97,639.01 345.98,640.47 C346.99,641.92 348.03,643.36 349.08,644.78 C350.14,646.19 351.22,647.59 352.32,648.97 C353.42,650.35 354.55,651.71 355.70,653.04 C356.85,654.37 358.02,655.68 359.22,656.96 C360.42,658.24 361.64,659.50 362.88,660.73 C364.13,661.96 365.40,663.16 366.69,664.33 C367.99,665.50 369.30,666.63 370.65,667.74 C371.99,668.84 373.36,669.92 374.75,670.95 C376.15,671.98 377.56,672.99 379.01,673.95 C380.45,674.91 381.92,675.83 383.42,676.71 C384.91,677.60 386.43,678.44 387.98,679.24 C389.52,680.03 391.10,680.79 392.69,681.50 C394.29,682.21 395.92,682.88 397.57,683.49 C399.22,684.11 400.90,684.68 402.60,685.20 C404.31,685.72 406.93,686.37 407.80,686.60"/>
<path d="M400.00,543.00 C400.83,543.07 403.33,543.22 404.99,543.42 C406.66,543.62 408.33,543.89 410.00,544.21 C411.66,544.53 413.33,544.91 414.98,545.35 C416.64,545.79 418.29,546.28 419.93,546.83 C421.57,547.38 423.20,547.98 424.81,548.63 C426.42,549.29 428.02,549.99 429.59,550.75 C431.16,551.50 432.72,552.31 434.25,553.16 C435.78,554.02 437.29,554.92 438.76,555.86 C440.23,556.81 441.68,557.80 443.09,558.83 C444.51,559.87 445.89,560.95 447.23,562.06 C448.57,563.18 449.87,564.34 451.13,565.54 C452.39,566.74 453.61,567.98 454.78,569.25 C455.94,570.52 457.07,571.83 458.14,573.18 C459.21,574.52 460.23,575.90 461.19,577.31 C462.16,578.72 463.07,580.17 463.91,581.64 C464.76,583.11 465.55,584.61 466.28,586.14 C467.01,587.66 467.68,589.22 468.28,590.79 C468.89,592.36 469.43,593.96 469.90,595.58 C470.38,597.20 470.79,598.84 471.13,600.49 C471.47,602.14 471.74,603.82 471.95,605.50 C472.16,607.18 472.31,608.88 472.39,610.58 C472.47,612.28 472.49,613.99 472.45,615.71 C472.41,617.42 472.30,619.14 472.14,620.86 C471.99,622.57 471.77,624.29 471.50,626.00 C471.23,627.71 470.90,629.42 470.52,631.11 C470.14,632.80 469.70,634.49 469.21,636.16 C468.72,637.83 468.18,639.49 467.58,641.13 C466.99,642.77 466.34,644.39 465.65,645.99 C464.95,647.59 464.20,649.16 463.41,650.71 C462.61,652.26 461.77,653.78 460.88,655.27 C459.99,656.75 459.05,658.21 458.06,659.63 C457.08,661.05 456.05,662.44 454.98,663.78 C453.90,665.13 452.78,666.43 451.62,667.69 C450.46,668.95 449.26,670.16 448.01,671.32 C446.76,672.49 445.48,673.60 444.15,674.66 C442.82,675.72 441.45,676.73 440.05,677.68 C438.64,678.63 437.20,679.52 435.72,680.35 C434.24,681.18 432.72,681.94 431.16,682.64 C429.61,683.34 428.02,683.97 426.39,684.53 C424.77,685.09 423.11,685.58 421.42,685.99 C419.73,686.40 417.11,686.83 416.25,687.00"/>
<path d="M473.75,583.50 C473.88,584.36 474.30,586.90 474.53,588.64 C474.76,590.37 474.97,592.13 475.14,593.89 C475.31,595.66 475.45,597.45 475.56,599.25 C475.67,601.04 475.74,602.85 475.77,604.66 C475.81,606.48 475.81,608.30 475.76,610.12 C475.72,611.94 475.64,613.77 475.52,615.59 C475.40,617.41 475.23,619.23 475.02,621.04 C474.81,622.85 474.56,624.66 474.26,626.45 C473.96,628.24 473.61,630.03 473.21,631.79 C472.81,633.55 472.37,635.30 471.86,637.03 C471.36,638.75 470.81,640.46 470.19,642.13 C469.58,643.80 468.91,645.46 468.17,647.07 C467.44,648.68 466.64,650.26 465.78,651.80 C464.92,653.34 463.99,654.84 462.99,656.30 C461.99,657.75 460.93,659.16 459.78,660.52 C458.64,661.87 457.42,663.18 456.13,664.43 C454.83,665.68 452.69,667.41 452.00,668.00"/>
<path d="M391.90,541.90 C392.82,541.96 395.58,542.10 397.41,542.26 C399.24,542.41 401.07,542.60 402.89,542.83 C404.71,543.06 406.52,543.33 408.32,543.64 C410.13,543.94 411.92,544.29 413.70,544.67 C415.48,545.06 417.25,545.48 419.01,545.95 C420.77,546.41 422.51,546.92 424.24,547.47 C425.97,548.01 427.69,548.60 429.38,549.24 C431.08,549.87 432.76,550.54 434.42,551.26 C436.08,551.98 437.72,552.74 439.34,553.55 C440.96,554.35 442.57,555.20 444.14,556.10 C445.72,556.99 447.28,557.94 448.81,558.92 C450.34,559.90 451.86,560.92 453.35,561.97 C454.85,563.02 456.32,564.11 457.79,565.22 C459.25,566.32 460.69,567.46 462.13,568.60 C463.56,569.74 464.98,570.91 466.39,572.08 C467.81,573.24 469.90,575.01 470.60,575.60"/>
<path d="M473.75,583.50 C476.88,583.25 487.38,582.62 492.50,582.00 C497.62,581.38 501.50,580.75 504.50,579.75 C507.50,578.75 509.50,576.62 510.50,576.00"/>
<path d="M510.50,576.00 L602.50,532.50"/>
<path d="M602.50,532.50 C602.79,531.92 602.21,530.46 604.25,529.00 C606.29,527.54 613.00,524.62 614.75,523.75"/>
<path d="M614.75,523.75 L644.50,509.75"/>
<path d="M644.50,509.75 C645.38,509.52 648.00,508.21 649.75,508.35 C651.50,508.49 653.39,509.06 655.00,510.60 C656.61,512.14 658.67,516.43 659.40,517.60"/>
<path d="M659.40,517.60 L675.10,561.40"/>
<path d="M675.10,561.40 C675.11,562.10 675.44,564.27 675.17,565.62 C674.90,566.97 674.23,568.40 673.47,569.51 C672.71,570.61 671.65,571.66 670.61,572.24 C669.56,572.82 668.31,573.12 667.19,572.98 C666.07,572.85 664.85,572.22 663.87,571.42 C662.89,570.62 661.93,569.41 661.32,568.18 C660.72,566.94 660.43,564.70 660.25,564.00"/>
<path d="M660.25,564.00 L650.10,522.00 L620.00,536.90"/>
<path d="M620.00,536.90 C618.54,537.48 613.58,539.73 611.25,540.40 C608.92,541.07 607.02,541.05 606.00,540.90 C604.98,540.75 605.25,539.73 605.10,539.50"/>
<path d="M605.10,539.50 L537.50,575.25"/>
<path d="M537.50,575.25 C536.67,575.69 534.19,577.03 532.52,577.91 C530.84,578.80 529.16,579.69 527.46,580.55 C525.75,581.42 524.04,582.28 522.32,583.10 C520.59,583.93 518.85,584.74 517.10,585.50 C515.34,586.27 513.58,587.01 511.80,587.69 C510.01,588.37 508.22,589.01 506.41,589.58 C504.61,590.16 502.78,590.68 500.95,591.13 C499.11,591.58 497.26,591.96 495.40,592.26 C493.54,592.56 491.66,592.78 489.77,592.91 C487.88,593.03 485.97,593.08 484.05,593.01 C482.13,592.94 479.22,592.59 478.25,592.50"/>
</g>
<path d="M382.22,75.00 L417.78,75.00" stroke="#000" stroke-width="1.90" fill="none"/>
<path d="M371.50,75.00 L384.90,81.90 L384.90,68.10 Z" fill="#000"/>
<path d="M428.50,75.00 L415.10,81.90 L415.10,68.10 Z" fill="#000"/>
<path d="M127.10,143.97 L127.10,293.88" stroke="#000" stroke-width="1.90" fill="none"/>
<path d="M127.10,133.25 L120.20,146.65 L134.00,146.65 Z" fill="#000"/>
<path d="M127.10,304.60 L120.20,291.20 L134.00,291.20 Z" fill="#000"/>
<path d="M169.12,343.00 L363.68,343.00" stroke="#000" stroke-width="1.90" fill="none"/>
<path d="M158.40,343.00 L171.80,349.90 L171.80,336.10 Z" fill="#000"/>
<path d="M374.40,343.00 L361.00,349.90 L361.00,336.10 Z" fill="#000"/>
<path d="M139.37,673.93 L462.48,717.57" stroke="#000" stroke-width="1.90" fill="none"/>
<path d="M128.75,672.50 L141.11,681.13 L142.95,667.46 Z" fill="#000"/>
<path d="M473.10,719.00 L458.90,724.04 L460.74,710.37 Z" fill="#000"/>
<path d="M516.60,685.81 L686.20,598.59" stroke="#000" stroke-width="1.90" fill="none"/>
<path d="M506.50,691.00 L522.38,690.82 L515.88,678.19 Z" fill="#000"/>
<path d="M696.30,593.40 L686.92,606.21 L680.42,593.58 Z" fill="#000"/>
<g font-family="Liberation Sans, sans-serif" font-size="24.5" fill="#000" text-anchor="middle" letter-spacing="0.4">
<text x="400.9" y="56.4">17mm</text>
<text transform="translate(111.7,215) rotate(-90)">36mm</text>
<text x="267.75" y="372.5">55mm</text>
<text x="282.8" y="727">145mm</text>
<text x="634.1" y="676.7">145mm</text>
</g>
</svg>
</body></html>
